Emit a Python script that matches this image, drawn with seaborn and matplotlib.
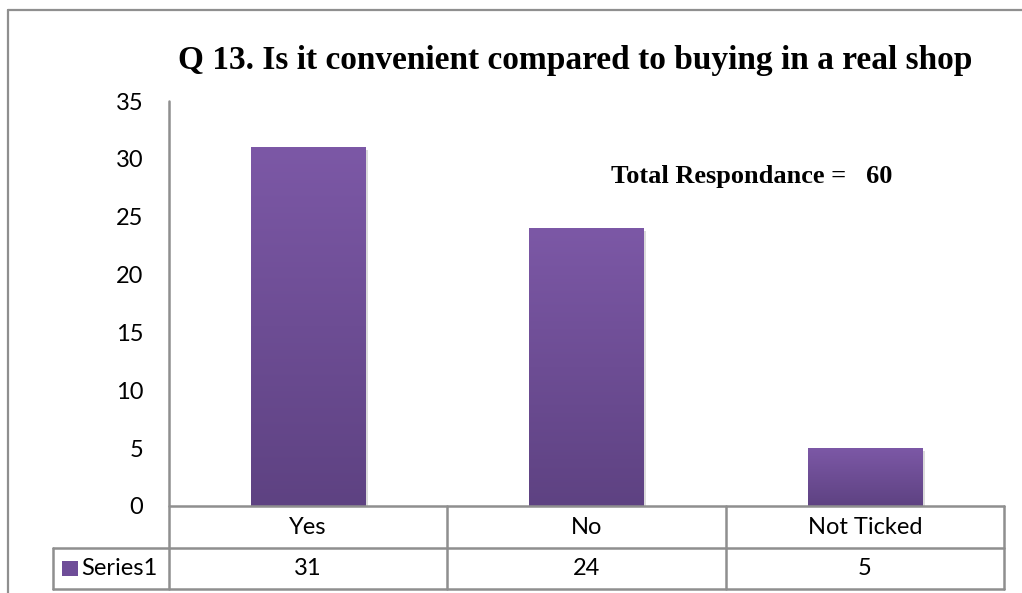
import numpy as np
import pandas as pd
import seaborn as sns
import matplotlib
matplotlib.use("Agg")
import matplotlib.pyplot as plt
from matplotlib.lines import Line2D
from matplotlib.patches import Rectangle
import matplotlib.patheffects as pe

# Survey responses
categories = ["Yes", "No", "Not Ticked"]
responses = [31, 24, 5]
series_name = "Series1"
total_label = "Total Respondance =   60"
title = "Q 13. Is it convenient compared to buying in a real shop"
yticks = [0, 5, 10, 15, 20, 25, 30, 35]

df = pd.DataFrame({"answer": categories, "count": responses})

sns.set_theme(style="white")
plt.rcParams["font.family"] = ["Lato", "DejaVu Sans"]
plt.rcParams["text.color"] = "black"
FS = 17

W, H = 1022, 593
fig = plt.figure(figsize=(W / 100, H / 100), dpi=100)
ax = fig.add_axes([169 / W, 1 - 506 / H, (1004 - 169) / W, (506 - 101) / H])

sns.barplot(data=df, x="answer", y="count", ax=ax, color="#7a56a3",
            width=0.41, saturation=1, edgecolor="none")

ax.set_xlim(-0.5, 2.5)
ax.set_ylim(0, 35)
ax.set_yticks(yticks)
ax.set_yticklabels([str(t) for t in yticks], fontsize=FS, color="black")
ax.tick_params(axis="y", length=0, pad=18.5, labelcolor="black")
ax.set_xticks([])
ax.set_xlabel("")
ax.set_ylabel("")
for s in ["top", "right", "bottom", "left"]:
    ax.spines[s].set_visible(False)

# vertical gradient fill for each bar, light at top, darker at bottom
top_c = np.array([0x7c, 0x58, 0xa6]) / 255
bot_c = np.array([0x5e, 0x42, 0x82]) / 255
grad = np.linspace(0, 1, 256)[:, None]
img = top_c[None, None, :] * (1 - grad[..., None]) + bot_c[None, None, :] * grad[..., None]
for p in list(ax.patches):
    x0, y0 = p.get_x(), p.get_y()
    w, h = p.get_width(), p.get_height()
    p.set_path_effects([pe.SimplePatchShadow(offset=(2, -2), shadow_rgbFace="#999999", alpha=0.35),
                        pe.Normal()])
    im = ax.imshow(img, extent=[x0, x0 + w, y0, y0 + h], aspect="auto",
                   origin="upper", zorder=p.get_zorder() + 0.1)
    im.set_clip_path(p)

# data table below the axis
grid_kw = dict(color="#8f8f8f", lw=1.8, clip_on=False, zorder=5)
px_per_unit = 405 / 35
px_per_cat = 278.33
row1 = -(548 - 506) / px_per_unit
row2 = -(589 - 506) / px_per_unit
leg_x = (53 - 169) / px_per_cat - 0.5

ax.add_line(Line2D([-0.5, -0.5], [35, row2], **grid_kw))
ax.add_line(Line2D([-0.5, 2.5], [0, 0], **grid_kw))
ax.add_line(Line2D([leg_x, 2.5], [row1, row1], **grid_kw))
ax.add_line(Line2D([leg_x, 2.5], [row2, row2], **grid_kw))
ax.add_line(Line2D([leg_x, leg_x], [row1, row2], **grid_kw))
for xv in [0.5, 1.5, 2.5]:
    ax.add_line(Line2D([xv, xv], [0, row2], **grid_kw))

for i, (c, v) in enumerate(zip(categories, responses)):
    ax.text(i, row1 / 2, c, ha="center", va="center", fontsize=FS, clip_on=False)
    ax.text(i, (row1 + row2) / 2, str(v), ha="center", va="center", fontsize=FS, clip_on=False)

# legend key inside the table
key_w = 16 / px_per_cat
key_h = 15 / px_per_unit
key_x = (62 - 169) / px_per_cat - 0.5
ax.add_patch(Rectangle((key_x, (row1 + row2) / 2 - key_h / 2), key_w, key_h,
                       facecolor="#6e4d98", edgecolor="none", clip_on=False))
ax.text(key_x + key_w + 3 / px_per_cat, (row1 + row2) / 2, series_name,
        ha="left", va="center", fontsize=FS, clip_on=False)

# title and annotation
serif = ["Liberation Serif", "DejaVu Serif"]
fig.text(575 / W, 1 - 60 / H, title, ha="center", va="center",
         fontsize=24, fontweight="bold", family=serif, color="black")
fig.text(752 / W, 1 - 176 / H, total_label, ha="center", va="center",
         fontsize=19, fontweight="bold", family=serif, color="black")

# outer chart frame
frame_kw = dict(color="#8f8f8f", lw=1.6, transform=fig.transFigure)
fig.add_artist(Line2D([8 / W, 8 / W], [0, 1 - 10 / H], **frame_kw))
fig.add_artist(Line2D([8 / W, 1], [1 - 10 / H, 1 - 10 / H], **frame_kw))

fig.savefig("out.png", dpi=100, facecolor="white")
